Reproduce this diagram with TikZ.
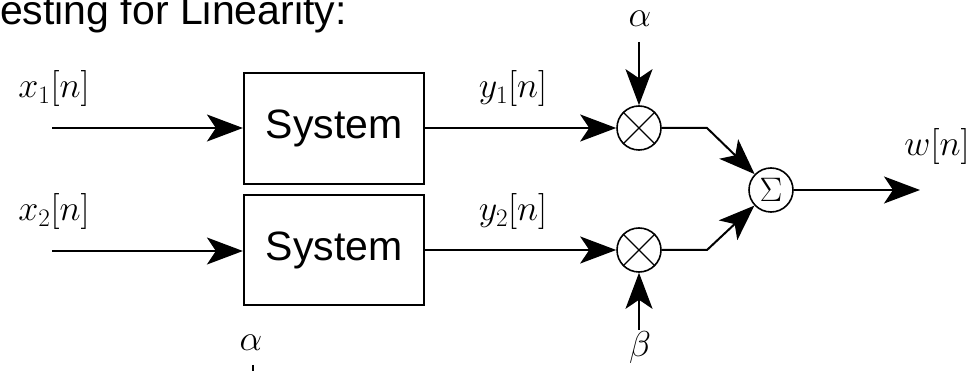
\RequirePackage{fix-cm}
\documentclass[tikz,border=0pt]{standalone}
\usepackage{fontspec}
\setmainfont{Liberation Sans}
\usetikzlibrary{arrows.meta}
\tikzset{
  sysbox/.style={draw, line width=2.2pt, minimum width=180pt, minimum height=111pt, inner sep=0pt,
    font=\fontsize{41}{46}\selectfont},
  mult/.style={draw, circle, line width=1.6pt, minimum size=44pt, inner sep=0pt},
  sumnode/.style={draw, circle, line width=1.6pt, minimum size=44pt, inner sep=0pt,
    font=\fontsize{34}{40}\selectfont},
  sig/.style={line width=2pt, -{Stealth[length=36pt,width=27pt,inset=9pt]}},
  wire/.style={line width=2pt},
  lbl/.style={inner sep=0pt, anchor=base, font=\fontsize{36}{42}\selectfont},
  glbl/.style={inner sep=0pt, anchor=center, font=\fontsize{36}{42}\selectfont},
}
\begin{document}
\begin{tikzpicture}[x=1pt,y=-1pt]
\useasboundingbox (0,0) rectangle (975,371);
% title (cropped)
\node[inner sep=0pt, anchor=base west, font=\fontsize{41}{46}\selectfont] (title) at (0,25) {esting for Linearity:};
% blocks
\node[sysbox] (sys1) at (334,128.5) {System};
\node[sysbox, minimum height=110pt] (sys2) at (334,250) {System};
% multipliers and adder
\node[mult] (m1) at (639,128) {};
\node[mult] (m2) at (639,250) {};
\draw[line width=1.3pt] (m1.north west) -- (m1.south east) (m1.north east) -- (m1.south west);
\draw[line width=1.3pt] (m2.north west) -- (m2.south east) (m2.north east) -- (m2.south west);
\node[sumnode] (s) at (771,190) {$\Sigma$};
% labels
\node[lbl] (lx1) at (54,98) {$x_1[n]$};
\node[lbl] (lx2) at (54,221) {$x_2[n]$};
\node[lbl] (ly1) at (513,98) {$y_1[n]$};
\node[lbl] (ly2) at (513,221) {$y_2[n]$};
\node[lbl] (lw) at (937,156) {$w[n]$};
\node[glbl] (la) at (640,19) {$\alpha$};
\node[glbl] (lb) at (640,347) {$\beta$};
\node[glbl] (la2) at (251,343) {$\alpha$};
% coordinates
\coordinate (in1) at (52,128);
\coordinate (in2) at (52,251);
\coordinate (ca) at (639,42);
\coordinate (cb) at (639,330);
\coordinate (k1) at (707,128);
\coordinate (k2) at (707,250);
\coordinate (out) at (920,190);
\coordinate (a2top) at (253,365);
\coordinate (a2bot) at (253,390);
% connectors
\draw[sig] (in1) -- (sys1.west |- in1);
\draw[sig] (in2) -- (sys2.west |- in2);
\draw[sig] (sys1.east |- m1) -- (m1.west);
\draw[sig] (sys2.east |- m2) -- (m2.west);
\draw[sig] (ca) -- (m1.north);
\draw[sig] (cb) -- (m2.south);
\draw[sig] (m1.east) -- (k1) -- (s);
\draw[sig] (m2.east) -- (k2) -- (s);
\draw[sig] (s.east) -- (out);
\draw[wire] (a2top) -- (a2bot);
\end{tikzpicture}
\end{document}
